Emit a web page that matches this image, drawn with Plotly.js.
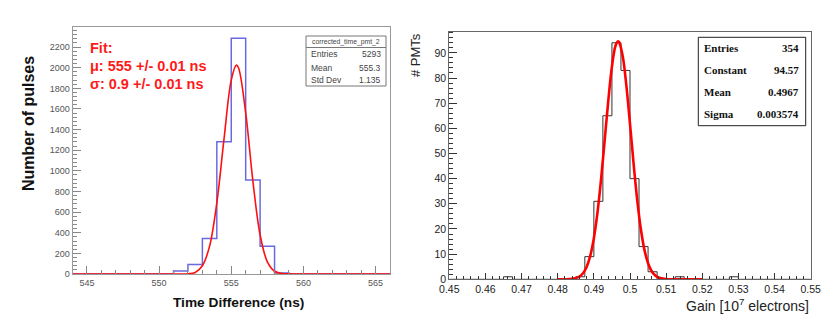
<!DOCTYPE html>
<html>
<head>
<meta charset="utf-8">
<script src="https://cdn.plot.ly/plotly-3.0.1.min.js"></script>
<style>
  html, body { margin: 0; padding: 0; background: #fff; }
  #chart { width: 830px; height: 326px; }
</style>
</head>
<body>
<div id="chart"></div>
<script>
// left panel: time difference histogram (1 ns bins)
const timeEdges = [544, 545, 546, 547, 548, 549, 550, 551, 552, 553, 554, 555,
  556, 557, 558, 559, 560, 561, 562, 563, 564, 565, 566];
const timeCounts = [0, 0, 0, 0, 0, 0, 0, 30, 92, 345, 1282, 2285,
  912, 268, 10, 0, 0, 0, 0, 0, 0, 0];
// red gaussian fit
const timeFitX = [544, 551, 551.5, 552, 552.5, 553, 553.5, 554, 554.5, 555, 555.35,
  555.5, 556, 556.5, 557, 557.5, 558, 558.5, 559, 559.5, 566];
const timeFitY = [0, 0, 0.3, 3, 15, 80, 270, 690, 1310, 1880, 2025,
  2000, 1565, 900, 380, 118, 27, 5, 1, 0, 0];

// right panel: gain histogram (0.0025 bins)
const gainEdges = [0.45, 0.4525, 0.455, 0.4575, 0.46, 0.4625, 0.465, 0.4675, 0.47, 0.4725,
  0.475, 0.4775, 0.48, 0.4825, 0.485, 0.4875, 0.49, 0.4925, 0.495, 0.4975,
  0.5, 0.5025, 0.505, 0.5075, 0.51, 0.5125, 0.515, 0.5175, 0.52, 0.5225,
  0.525, 0.5275, 0.53, 0.5325, 0.535, 0.5375, 0.54, 0.5425, 0.545, 0.5475, 0.55];
const gainCounts = [0, 0, 0, 0, 0, 0, 1, 0, 0, 0,
  0, 0, 0, 0, 1, 9, 31, 65, 94, 83,
  40, 13, 3, 0, 0, 1, 0, 0, 0, 0,
  0, 1, 0, 0, 0, 0, 0, 0, 0, 0];
const gainFitX = [0.48, 0.482, 0.484, 0.486, 0.487, 0.488, 0.489, 0.49, 0.491, 0.492,
  0.493, 0.494, 0.495, 0.496, 0.4967, 0.497, 0.498, 0.499, 0.5, 0.501,
  0.502, 0.503, 0.504, 0.505, 0.506, 0.507, 0.508, 0.51, 0.512, 0.516, 0.52];
const gainFitY = [0, 0.02, 0.2, 1.1, 2.4, 4.9, 9.3, 16.3, 26.5, 39.8,
  55.3, 71.1, 84.5, 92.8, 94.57, 94.2, 88.5, 76.9, 61.8, 45.9,
  31.5, 20, 11.7, 6.4, 3.2, 1.5, 0.6, 0.1, 0, 0, 0];

const timeStats = [['Entries', '5293'], ['Mean', '555.3'], ['Std Dev', '1.135']];
const gainStats = [['Entries', '354'], ['Constant', '94.57'], ['Mean', '0.4967'], ['Sigma', '0.003574']];
const fitLines = ['Fit:', 'μ: 555 +/- 0.01 ns', 'σ: 0.9 +/- 0.01 ns'];

const W = 830, H = 326;
const px = x => x / W;
const py = y => 1 - y / H;
const stepY = counts => counts.concat(counts[counts.length - 1]);

const SANS = 'Liberation Sans, Arial, sans-serif';
const SERIF = 'Liberation Serif, Times New Roman, serif';

const data = [
  {
    x: timeEdges, y: stepY(timeCounts), xaxis: 'x', yaxis: 'y',
    type: 'scatter', mode: 'lines', line: { shape: 'hv', color: '#6a6ae0', width: 1.5 },
    hoverinfo: 'skip'
  },
  {
    x: timeFitX, y: timeFitY, xaxis: 'x', yaxis: 'y',
    type: 'scatter', mode: 'lines', line: { shape: 'spline', color: '#ff1010', width: 1.6 },
    cliponaxis: false, hoverinfo: 'skip'
  },
  {
    x: gainEdges, y: stepY(gainCounts), xaxis: 'x2', yaxis: 'y2',
    type: 'scatter', mode: 'lines', line: { shape: 'hv', color: '#333', width: 1 },
    hoverinfo: 'skip'
  },
  {
    x: gainFitX, y: gainFitY, xaxis: 'x2', yaxis: 'y2',
    type: 'scatter', mode: 'lines', line: { shape: 'spline', color: '#ff0000', width: 2.6 },
    cliponaxis: false, hoverinfo: 'skip'
  }
];

const axisBase = {
  showgrid: false, zeroline: false, showline: true, mirror: true,
  ticks: 'inside', tickmode: 'linear', fixedrange: true
};

const layout = {
  width: W, height: H,
  margin: { l: 0, r: 0, t: 0, b: 0 },
  paper_bgcolor: '#fff', plot_bgcolor: '#fff',
  showlegend: false,
  font: { family: SANS },
  xaxis: Object.assign({}, axisBase, {
    domain: [px(72.5), px(390)], anchor: 'y', range: [544, 566],
    tick0: 545, dtick: 5, ticklen: 8, tickcolor: '#888', linecolor: '#999',
    minor: { dtick: 1, ticks: 'inside', ticklen: 4, tickcolor: '#888' },
    tickfont: { family: SANS, size: 9, color: '#555' }
  }),
  yaxis: Object.assign({}, axisBase, {
    domain: [py(274), py(27)], anchor: 'x', range: [0, 2395],
    tick0: 0, dtick: 200, ticklen: 8, tickcolor: '#888', linecolor: '#999',
    minor: { dtick: 40, ticks: 'inside', ticklen: 4, tickcolor: '#888' },
    tickfont: { family: SANS, size: 9, color: '#555' }
  }),
  xaxis2: Object.assign({}, axisBase, {
    domain: [px(449.3), px(810.7)], anchor: 'y2', range: [0.45, 0.55],
    tick0: 0.45, dtick: 0.01, ticklen: 6, tickcolor: '#333', linecolor: '#666',
    minor: { dtick: 0.002, ticks: 'inside', ticklen: 3.5, tickcolor: '#333' },
    tickfont: { family: SANS, size: 10.5, color: '#222' }
  }),
  yaxis2: Object.assign({}, axisBase, {
    domain: [py(279.3), py(31.7)], anchor: 'x2', range: [0, 98.4],
    tick0: 0, dtick: 10, ticklen: 8, tickcolor: '#333', linecolor: '#666',
    minor: { dtick: 2, ticks: 'inside', ticklen: 4, tickcolor: '#333' },
    tickfont: { family: SANS, size: 10.5, color: '#222' }
  }),
  shapes: [
    { type: 'rect', xref: 'paper', yref: 'paper', x0: px(306), x1: px(386), y0: py(86), y1: py(36),
      line: { color: '#777', width: 1 }, fillcolor: '#fff', layer: 'above' },
    { type: 'line', xref: 'paper', yref: 'paper', x0: px(306), x1: px(386), y0: py(47.5), y1: py(47.5),
      line: { color: '#777', width: 1 }, layer: 'above' },
    { type: 'rect', xref: 'paper', yref: 'paper', x0: px(698.3), x1: px(805.7), y0: py(125.7), y1: py(37.3),
      line: { color: '#222', width: 1 }, fillcolor: '#fff', layer: 'above' }
  ],
  annotations: []
};

const note = (text, x, y, opts) => Object.assign({
  text: text, x: px(x), y: py(y), xref: 'paper', yref: 'paper',
  showarrow: false, xanchor: 'left', yanchor: 'middle', borderpad: 0
}, opts);

// axis titles
layout.annotations.push(
  note('Number of pulses', 28, 124, { xanchor: 'center', textangle: -90,
    font: { family: SANS, size: 16, color: '#111', weight: 'bold' } }),
  note('Time Difference (ns)', 238.5, 302, { xanchor: 'center',
    font: { family: SANS, size: 13.7, color: '#111', weight: 'bold' } }),
  note('# PMTs', 415, 55, { xanchor: 'center', textangle: -90,
    font: { family: SANS, size: 13, color: '#222' } }),
  note('Gain [10<sup>7</sup> electrons]', 810, 305, { xanchor: 'right',
    font: { family: SANS, size: 14, color: '#222' } })
);

// fit result text
[47.7, 66, 84].forEach((y, i) => {
  layout.annotations.push(note(fitLines[i], 89, y,
    { font: { family: SANS, size: 14.5, color: '#ff1a1a', weight: 'bold' } }));
});

// stats boxes
layout.annotations.push(note('corrected_time_pmt_2', 346, 41.8, { xanchor: 'center',
  font: { family: SANS, size: 6.8, color: '#444' } }));
[54, 67.7, 80].forEach((y, i) => {
  layout.annotations.push(
    note(timeStats[i][0], 310, y, { font: { family: SANS, size: 8.5, color: '#444' } }),
    note(timeStats[i][1], 382, y, { xanchor: 'right', font: { family: SANS, size: 8.5, color: '#444' } })
  );
});
[47.7, 70, 92, 114].forEach((y, i) => {
  layout.annotations.push(
    note(gainStats[i][0], 703.3, y, { font: { family: SERIF, size: 11, color: '#111', weight: 'bold' } }),
    note(gainStats[i][1], 799.5, y, { xanchor: 'right', font: { family: SERIF, size: 11, color: '#111', weight: 'bold' } })
  );
});

Plotly.newPlot('chart', data, layout, { displayModeBar: false, staticPlot: true });
</script>
</body>
</html>
